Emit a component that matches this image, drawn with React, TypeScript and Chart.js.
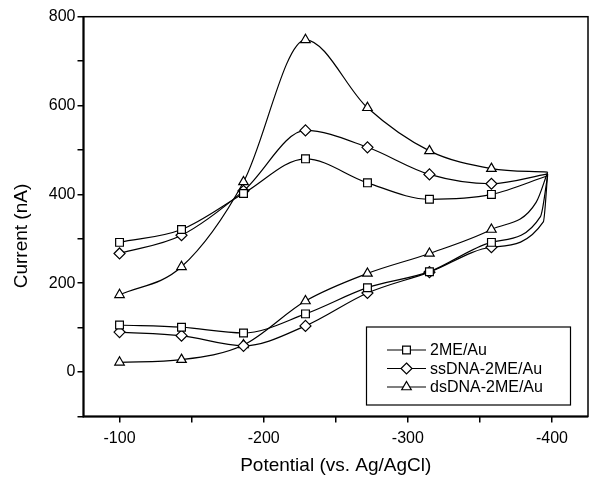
import React, { useEffect, useRef } from 'react';
import { Chart, registerables } from 'chart.js';

Chart.register(...registerables);

// Potentials of the marked points (mV vs. Ag/AgCl)
const potentials = [-100, -143, -186, -229, -272, -315, -358];
const turnPotential = -397;

const seriesNames = ['2ME/Au', 'ssDNA-2ME/Au', 'dsDNA-2ME/Au'];
const seriesMarkers = ['rect', 'rectRot', 'triangle'];

// Forward (upper) branch, -100 -> -358 mV
const forward2ME = [292, 321, 402, 480, 426, 389, 400];
const forwardSs = [267, 308, 408, 544, 506, 445, 424];
const forwardDs = [174, 237, 428, 748, 595, 498, 458];
// Turning point at -397 mV
const turn2ME = 442;
const turnSs = 446;
const turnDs = 450;
// Unmarked point on the return branch just after the turn
const nearTurnPotential2ME = -392;
const nearTurnPotentialSs = -394;
const nearTurnPotentialDs = -389;
const nearTurn2ME = 350;
const nearTurnSs = 338;
const nearTurnDs = 382;
// Return (lower) branch, -358 -> -100 mV
const return2ME = [292, 226, 190, 131, 88, 101, 106];
const returnSs = [281, 225, 178, 104, 59, 82, 90];
const returnDs = [321, 267, 222, 160, 61, 28, 22];

const xTickValues = [-100, -150, -200, -250, -300, -350, -400];
const xLabelTicks = [-100, -200, -300, -400];
const yLabelTicks = [0, 200, 400, 600, 800];

const xTitle = 'Potential (vs. Ag/AgCl)';
const yTitle = 'Current (nA)';

const FONT = '"Liberation Sans", Arial, Helvetica, sans-serif';

function forwardBranch(fwd: number[], turn: number) {
  const pts: { x: number; y: number }[] = potentials.map((x, i) => ({ x, y: fwd[i] }));
  pts.push({ x: turnPotential, y: turn });
  return pts;
}

function returnBranch(turn: number, nearX: number, nearY: number, ret: number[]) {
  const pts: { x: number; y: number }[] = [{ x: turnPotential, y: turn }, { x: nearX, y: nearY }];
  const back = potentials.slice().reverse();
  back.forEach((x, i) => pts.push({ x, y: ret[i] }));
  return pts;
}

function drawMarker(ctx: CanvasRenderingContext2D, style: string, x: number, y: number, r: number) {
  ctx.beginPath();
  if (style === 'rect') {
    const s = Math.SQRT1_2 * r;
    ctx.rect(x - s, y - s, 2 * s, 2 * s);
  } else if (style === 'rectRot') {
    ctx.moveTo(x, y - r);
    ctx.lineTo(x + r, y);
    ctx.lineTo(x, y + r);
    ctx.lineTo(x - r, y);
    ctx.closePath();
  } else {
    const a = Math.PI / 6;
    ctx.moveTo(x, y - r);
    ctx.lineTo(x + Math.cos(a) * r, y + Math.sin(a) * r);
    ctx.lineTo(x - Math.cos(a) * r, y + Math.sin(a) * r);
    ctx.closePath();
  }
  ctx.fillStyle = '#fff';
  ctx.fill();
  ctx.stroke();
}

const framePlugin = {
  id: 'frameAndLegend',
  afterDraw(chart: any) {
    const { ctx, chartArea } = chart;
    ctx.save();
    ctx.strokeStyle = '#000';
    ctx.lineWidth = 1.5;
    ctx.strokeRect(chartArea.left, chartArea.top, chartArea.right - chartArea.left, chartArea.bottom - chartArea.top);
    ctx.lineWidth = 2;
    ctx.beginPath();
    ctx.moveTo(chartArea.left, chartArea.top);
    ctx.lineTo(chartArea.left, chartArea.bottom);
    ctx.lineTo(chartArea.right, chartArea.bottom);
    ctx.stroke();

    // legend box
    const bx = 366.5, by = 327, bw = 204, bh = 78;
    ctx.lineWidth = 1.2;
    ctx.fillStyle = '#fff';
    ctx.fillRect(bx, by, bw, bh);
    ctx.strokeRect(bx, by, bw, bh);
    const rows = [350, 368.5, 387];
    ctx.font = `16px ${FONT}`;
    ctx.textBaseline = 'middle';
    ctx.textAlign = 'left';
    seriesNames.forEach((name, i) => {
      const y = rows[i];
      ctx.strokeStyle = '#000';
      ctx.lineWidth = 1.2;
      ctx.beginPath();
      ctx.moveTo(387, y);
      ctx.lineTo(426, y);
      ctx.stroke();
      drawMarker(ctx, seriesMarkers[i], 406.5, y, 5.5);
      ctx.fillStyle = '#000';
      ctx.fillText(name, 430, y + 1);
    });

    // axis titles
    ctx.fillStyle = '#000';
    ctx.font = `19px ${FONT}`;
    ctx.textAlign = 'center';
    ctx.textBaseline = 'middle';
    ctx.fillText(xTitle, (chartArea.left + chartArea.right) / 2, 466);
    ctx.translate(22, 236);
    ctx.rotate(-Math.PI / 2);
    ctx.fillText(yTitle, 0, 0);
    ctx.restore();
  },
};

export default function App() {
  const ref = useRef<HTMLCanvasElement | null>(null);
  useEffect(() => {
    if (!ref.current) return;
    const branches = [
      { name: seriesNames[0], m: 0, data: forwardBranch(forward2ME, turn2ME), marked: potentials.length },
      { name: seriesNames[1], m: 1, data: forwardBranch(forwardSs, turnSs), marked: potentials.length },
      { name: seriesNames[2], m: 2, data: forwardBranch(forwardDs, turnDs), marked: potentials.length },
      { name: seriesNames[0] + ' (return)', m: 0, data: returnBranch(turn2ME, nearTurnPotential2ME, nearTurn2ME, return2ME), marked: -1 },
      { name: seriesNames[1] + ' (return)', m: 1, data: returnBranch(turnSs, nearTurnPotentialSs, nearTurnSs, returnSs), marked: -1 },
      { name: seriesNames[2] + ' (return)', m: 2, data: returnBranch(turnDs, nearTurnPotentialDs, nearTurnDs, returnDs), marked: -1 },
    ];
    const datasets = branches.map((b) => ({
      label: b.name,
      data: b.data,
      borderColor: '#000',
      borderWidth: 1.2,
      backgroundColor: '#fff',
      pointStyle: seriesMarkers[b.m] as any,
      pointRadius: b.data.map((_, j) => {
        if (b.marked >= 0) return j === b.marked ? 0 : 5.5;
        return j < 2 ? 0 : 5.5;
      }),
      pointBackgroundColor: '#fff',
      pointBorderColor: '#000',
      pointBorderWidth: 1.2,
      cubicInterpolationMode: 'monotone' as const,
      fill: false,
    }));
    const chart = new Chart(ref.current, {
      type: 'line',
      data: { datasets },
      options: {
        animation: false,
        responsive: false,
        maintainAspectRatio: false,
        devicePixelRatio: 1,
        layout: { padding: { left: 0, right: 10, top: 16.7, bottom: 0 } },
        plugins: { legend: { display: false }, tooltip: { enabled: false } },
        scales: {
          x: {
            type: 'linear',
            min: -425,
            max: -75,
            reverse: true,
            afterFit: (s: any) => { s.height = 60.5; },
            afterBuildTicks: (s: any) => { s.ticks = xTickValues.map((v) => ({ value: v })); },
            border: { display: false },
            grid: { drawOnChartArea: false, drawTicks: true, tickLength: 6, color: '#000', lineWidth: 1.5 },
            ticks: {
              autoSkip: false,
              maxRotation: 0,
              padding: 6,
              color: '#000',
              font: { family: FONT, size: 16 },
              callback: (v: any) => (xLabelTicks.includes(Number(v)) ? String(v) : ''),
            },
          },
          y: {
            type: 'linear',
            min: -100,
            max: 800,
            afterFit: (s: any) => { s.width = 83.5; },
            border: { display: false },
            grid: { drawOnChartArea: false, drawTicks: true, tickLength: 6, color: '#000', lineWidth: 1.5 },
            ticks: {
              stepSize: 100,
              autoSkip: false,
              padding: 2,
              color: '#000',
              font: { family: FONT, size: 16 },
              callback: (v: any) => (yLabelTicks.includes(Number(v)) ? String(v) : ''),
            },
          },
        },
      },
      plugins: [framePlugin],
    });
    return () => chart.destroy();
  }, []);
  return (
    <div style={{ position: 'fixed', left: 0, top: 0, width: 598, height: 477, background: '#fff' }}>
      <canvas ref={ref} width={598} height={477} style={{ width: 598, height: 477, display: 'block' }} />
    </div>
  );
}
